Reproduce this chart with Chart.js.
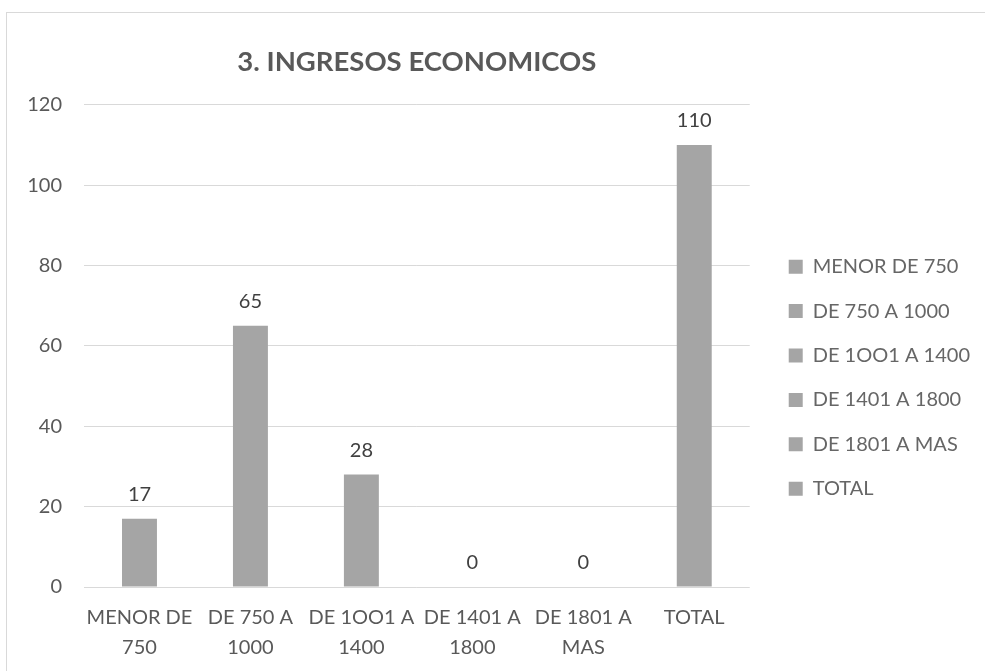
<!DOCTYPE html>
<html>
<head>
<meta charset="utf-8">
<script src="https://cdn.jsdelivr.net/npm/chart.js@4/dist/chart.umd.min.js"></script>
<style>
  html, body { margin: 0; padding: 0; background: #ffffff; overflow: hidden; width: 985px; height: 671px; }
  #frame { position: absolute; left: 6px; top: 12px; width: 1000px; height: 700px; border: 1px solid #d9d9d9; background: #fff; }
  #c { position: absolute; left: 0; top: 0; }
</style>
</head>
<body>
<div id="frame"><canvas id="c" width="980" height="676"></canvas></div>
<script>
const chartTitle = '3. INGRESOS ECONOMICOS';
const categories = ['MENOR DE 750', 'DE 750 A 1000', 'DE 1OO1 A 1400', 'DE 1401 A 1800', 'DE 1801 A MAS', 'TOTAL'];
const tickLabels = [['MENOR DE', '750'], ['DE 750 A', '1000'], ['DE 1OO1 A', '1400'], ['DE 1401 A', '1800'], ['DE 1801 A', 'MAS'], ['TOTAL']];
const values = [17, 65, 28, 0, 0, 110];
const yTicks = [0, 20, 40, 60, 80, 100, 120];

const BAR = '#a5a5a5';
const TXT = '#595959';
const FONT = 'Lato, "Open Sans", sans-serif';

const dataLabels = {
  id: 'dataLabels',
  afterDatasetsDraw(chart) {
    const ctx = chart.ctx;
    const meta = chart.getDatasetMeta(0);
    ctx.save();
    ctx.font = '20px ' + FONT;
    ctx.fillStyle = '#404040';
    ctx.textAlign = 'center';
    ctx.textBaseline = 'middle';
    meta.data.forEach((bar, i) => {
      ctx.fillText(String(values[i]), bar.x, bar.y - 24);
    });
    ctx.restore();
  }
};

new Chart(document.getElementById('c'), {
  type: 'bar',
  data: {
    labels: tickLabels,
    datasets: [{
      data: values,
      backgroundColor: BAR,
      borderWidth: 0,
      categoryPercentage: 1,
      barPercentage: 0.315
    }]
  },
  options: {
    responsive: false,
    animation: false,
    events: [],
    layout: { padding: { left: 0, right: 7, top: 0, bottom: 11 } },
    plugins: {
      tooltip: { enabled: false },
      title: {
        display: true,
        text: chartTitle,
        fullSize: false,
        color: TXT,
        font: { family: FONT, size: 27.5, weight: 'bold', lineHeight: 1.2 },
        padding: { top: 32.3, bottom: 26.4 }
      },
      legend: {
        display: true,
        position: 'right',
        align: 'start',
        fullSize: false,
        maxWidth: 400,
        title: { display: true, text: ' ', font: { size: 1, lineHeight: 1 }, padding: { top: 126.6, bottom: 0 } },
        labels: {
          color: TXT,
          font: { family: FONT, size: 20 },
          boxWidth: 14,
          boxHeight: 14,
          padding: 24.4,
          generateLabels() {
            return categories.map((c, i) => ({
              text: c, fillStyle: BAR, strokeStyle: BAR, lineWidth: 0, hidden: false, index: i, datasetIndex: 0
            }));
          }
        }
      }
    },
    scales: {
      x: {
        grid: { display: false, drawTicks: false },
        border: { display: false },
        ticks: {
          color: TXT, font: { family: FONT, size: 20, lineHeight: 1.475 },
          padding: 16, maxRotation: 0, autoSkip: false
        }
      },
      y: {
        min: 0, max: 120,
        afterFit(s) { s.width = 77; },
        afterBuildTicks(s) { s.ticks = yTicks.map(v => ({ value: v })); },
        grid: { color: '#d9d9d9', lineWidth: 1, drawTicks: false },
        border: { display: false },
        ticks: { color: TXT, font: { family: FONT, size: 20 }, padding: 22 }
      },
      gap: {
        type: 'linear',
        position: 'right',
        afterFit(s) { s.width = 14.6; },
        grid: { display: false, drawTicks: false },
        border: { display: false },
        ticks: { display: false }
      }
    }
  },
  plugins: [dataLabels]
});
</script>
</body>
</html>
